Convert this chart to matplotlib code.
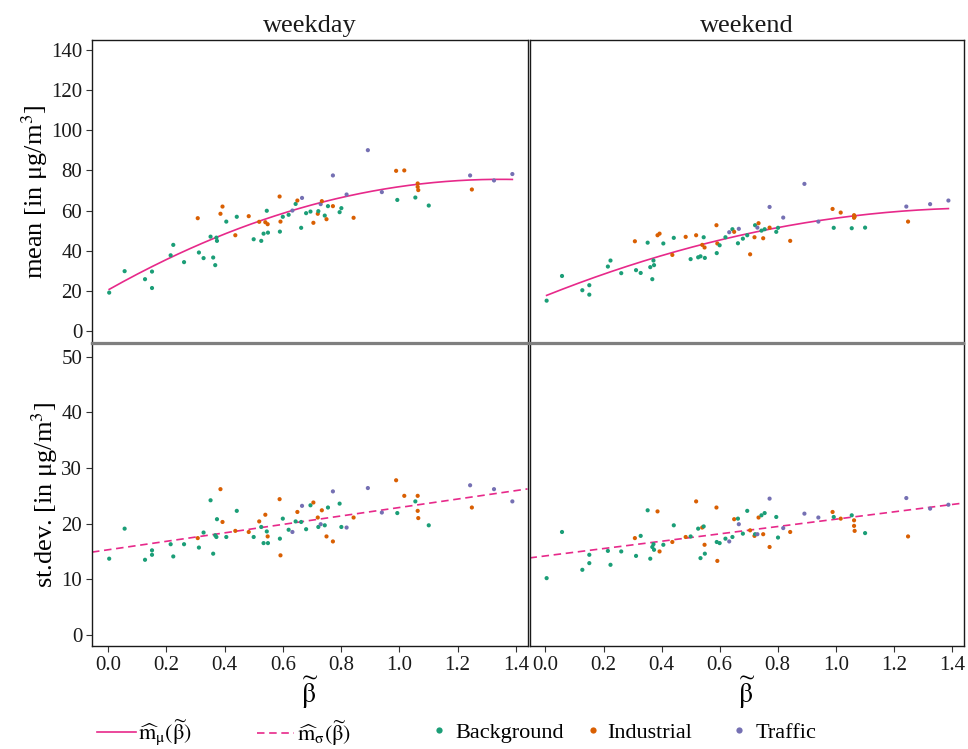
import numpy as np
import matplotlib
matplotlib.use("Agg")
import matplotlib.pyplot as plt
from matplotlib.lines import Line2D

plt.rcParams["font.family"] = ["Liberation Serif", "DejaVu Serif"]
plt.rcParams["mathtext.fontset"] = "stix"

# Station-level summaries: site type, beta-tilde and NO2 statistics
site_type = ["B", "B", "B", "B", "B", "B", "B", "B", "I", "B",
             "B", "B", "B", "B", "B", "B", "I", "I", "B", "I",
             "B", "I", "B", "I", "B", "B", "I", "B", "I", "B",
             "I", "B", "I", "B", "B", "T", "B", "I", "B", "T",
             "B", "B", "I", "I", "B", "T", "I", "B", "I", "B",
             "I", "T", "B", "B", "T", "I", "T", "T", "I", "B",
             "I", "B", "I", "I", "I", "B", "T", "I", "T", "T"]

beta = [0.004, 0.057, 0.127, 0.151, 0.151, 0.215, 0.224, 0.261, 0.308, 0.312,
        0.328, 0.352, 0.361, 0.368, 0.372, 0.374, 0.386, 0.393, 0.406, 0.437,
        0.442, 0.483, 0.500, 0.519, 0.526, 0.534, 0.540, 0.545, 0.548, 0.549,
        0.589, 0.590, 0.592, 0.600, 0.620, 0.633, 0.644, 0.650, 0.663, 0.666,
        0.680, 0.695, 0.705, 0.720, 0.722, 0.730, 0.734, 0.744, 0.750, 0.755,
        0.772, 0.772, 0.795, 0.801, 0.819, 0.843, 0.892, 0.940, 0.989, 0.993,
        1.017, 1.055, 1.063, 1.063, 1.065, 1.101, 1.243, 1.249, 1.325, 1.388]

mean_weekday = [19.1, 29.8, 25.8, 29.6, 21.4, 37.7, 42.9, 34.3, 56.2, 39.1,
                36.3, 47.0, 36.6, 32.8, 46.5, 44.9, 58.4, 62.0, 54.5, 47.7,
                56.9, 57.2, 45.7, 54.4, 44.9, 48.5, 54.2, 59.9, 53.2, 49.0,
                67.0, 49.5, 54.5, 56.9, 57.9, 60.0, 63.3, 65.0, 51.4, 66.3,
                58.7, 59.5, 53.9, 58.4, 59.7, 63.2, 64.7, 57.5, 55.7, 62.2,
                62.2, 77.5, 59.2, 61.2, 68.0, 56.4, 90.1, 69.2, 79.8, 65.3,
                80.0, 66.5, 73.5, 71.8, 70.2, 62.5, 77.5, 70.5, 75.0, 78.2]

mean_weekend = [15.1, 27.4, 20.3, 22.8, 18.1, 32.1, 35.1, 28.8, 44.7, 30.3,
                28.9, 44.0, 31.8, 25.8, 35.1, 32.8, 47.7, 48.5, 43.6, 37.9,
                46.4, 46.9, 35.8, 47.7, 36.7, 37.2, 42.9, 46.7, 41.6, 36.4,
                52.7, 38.8, 43.6, 42.7, 46.7, 49.2, 50.7, 49.4, 43.7, 50.9,
                46.0, 47.7, 38.2, 46.7, 52.7, 51.5, 53.7, 50.0, 46.2, 50.7,
                51.5, 61.8, 49.4, 51.4, 56.5, 44.9, 73.3, 54.5, 60.8, 51.4,
                59.0, 51.2, 57.7, 56.4, 57.0, 51.5, 62.0, 54.5, 63.2, 65.0]

sd_weekday = [13.7, 19.1, 13.5, 15.2, 14.4, 16.3, 14.1, 16.3, 17.4, 15.7,
              18.4, 24.2, 14.6, 17.9, 17.6, 20.8, 26.2, 20.3, 17.6, 18.7,
              22.3, 18.5, 17.6, 20.4, 19.4, 16.5, 21.6, 18.6, 17.7, 16.5,
              24.4, 17.3, 14.3, 20.9, 18.9, 18.5, 20.4, 22.1, 20.3, 23.2,
              19.0, 23.3, 23.8, 21.1, 19.4, 19.9, 22.4, 19.7, 17.7, 22.9,
              16.8, 25.8, 23.6, 19.4, 19.3, 21.1, 26.4, 22.0, 27.8, 21.9,
              25.0, 24.0, 25.0, 22.3, 21.0, 19.7, 26.9, 22.9, 26.2, 24.0]

sd_weekend = [10.2, 18.5, 11.7, 14.4, 12.9, 15.1, 12.6, 15.0, 17.4, 14.2,
              17.8, 22.4, 13.7, 15.8, 16.3, 15.3, 22.2, 15.0, 16.2, 16.7,
              19.7, 17.6, 17.7, 24.0, 19.1, 13.8, 19.3, 19.5, 16.2, 14.6,
              22.9, 16.7, 13.3, 16.5, 17.3, 16.8, 17.6, 20.8, 20.9, 19.9,
              18.2, 22.3, 18.8, 17.8, 18.1, 18.1, 21.1, 21.5, 18.1, 21.9,
              15.8, 24.5, 21.2, 17.5, 19.2, 18.5, 21.8, 21.1, 22.1, 21.2,
              20.9, 21.5, 20.6, 19.6, 18.7, 18.3, 24.6, 17.7, 22.7, 23.4]

# Fitted models: quadratic for the mean, linear for the st.dev.
mu_coef_weekday = [20.4, 81.9, -30.4]
mu_coef_weekend = [17.5, 57.7, -19.0]
sigma_coef_weekday = [15.3, 7.6]
sigma_coef_weekend = [14.2, 6.6]

panel_titles = ["weekday", "weekend"]
type_names = {"B": "Background", "I": "Industrial", "T": "Traffic"}
type_colors = {"B": "#1B9E77", "I": "#D95F02", "T": "#7570B3"}
fit_color = "#E7298A"

W, H = 968, 749
fig = plt.figure(figsize=(W / 100, H / 100), dpi=100)


def frac_box(x0, y0, x1, y1):
    return [x0 / W, 1 - y1 / H, (x1 - x0) / W, (y1 - y0) / H]


axes = {
    (0, 0): fig.add_axes(frac_box(92, 40, 527.5, 343)),
    (0, 1): fig.add_axes(frac_box(529.5, 40, 963.5, 343)),
    (1, 0): fig.add_axes(frac_box(92, 344, 527.5, 646)),
    (1, 1): fig.add_axes(frac_box(529.5, 344, 963.5, 646)),
}

beta_arr = np.array(beta)
colors = [type_colors[t] for t in site_type]
xlim = (-0.055, 1.44)

panels = {
    (0, 0): (mean_weekday, mu_coef_weekday, None),
    (0, 1): (mean_weekend, mu_coef_weekend, None),
    (1, 0): (sd_weekday, None, sigma_coef_weekday),
    (1, 1): (sd_weekend, None, sigma_coef_weekend),
}

for (r, c), ax in axes.items():
    vals, mu_coef, sig_coef = panels[(r, c)]
    ax.scatter(beta_arr, vals, s=9, c=colors, linewidths=0, zorder=3)
    if mu_coef is not None:
        xs = np.linspace(beta_arr.min(), beta_arr.max(), 200)
        ys = mu_coef[0] + mu_coef[1] * xs + mu_coef[2] * xs ** 2
        ax.plot(xs, ys, color=fit_color, lw=1.2, zorder=2)
        ax.set_ylim(-6, 145)
        ax.set_yticks(np.arange(0, 141, 20))
    else:
        xs = np.array(xlim)
        ys = sig_coef[0] + sig_coef[1] * xs
        ax.plot(xs, ys, color=fit_color, lw=1.2, dashes=(4.5, 2.8), zorder=2)
        ax.set_ylim(-2, 52.3)
        ax.set_yticks(np.arange(0, 51, 10))
    ax.set_xlim(*xlim)
    ax.set_xticks(np.arange(0, 1.41, 0.2))
    ax.xaxis.set_major_formatter(matplotlib.ticker.FormatStrFormatter("%.1f"))
    ax.tick_params(direction="out", length=4, width=0.8, labelsize=15,
                   color="#333333", labelcolor="#1a1a1a", pad=3)
    for sp in ax.spines.values():
        sp.set_linewidth(1.0)
        sp.set_color("#1a1a1a")
    if r == 0:
        ax.spines["bottom"].set_color("#7f7f7f")
        ax.spines["bottom"].set_linewidth(1.6)
        ax.tick_params(axis="x", bottom=False, labelbottom=False)
        ax.set_title(panel_titles[c], fontsize=19, pad=6, color="#1a1a1a")
    else:
        ax.spines["top"].set_color("#7f7f7f")
        ax.spines["top"].set_linewidth(1.6)
        ax.set_xlabel(r"$\widetilde{\mathrm{\beta}}$", fontsize=20, labelpad=0)
    if c == 1:
        ax.tick_params(axis="y", left=False, labelleft=False)

axes[(0, 0)].set_ylabel("mean [in μg/m$^3$]", fontsize=19, labelpad=1)
axes[(1, 0)].set_ylabel("st.dev. [in μg/m$^3$]", fontsize=19, labelpad=1)

# Legend row along the bottom: one entry per slot, placed left to right
legend_fs = 16
legend_y = 1 - 733 / H
entries = [
    (Line2D([], [], color=fit_color, lw=1.2),
     r"$\widehat{\mathrm{m}}_{\mathrm{\mu}}(\widetilde{\mathrm{\beta}})$", 97, 1.75, 0.1),
    (Line2D([], [], color=fit_color, lw=1.2, dashes=(4.5, 2.8)),
     r"$\widehat{\mathrm{m}}_{\mathrm{\sigma}}(\widetilde{\mathrm{\beta}})$", 257, 1.65, 0.15),
    (Line2D([], [], ls="none", marker="o", ms=4.5, mew=0, color=type_colors["B"]),
     type_names["B"], 432, 0.6, 0.45),
    (Line2D([], [], ls="none", marker="o", ms=4.5, mew=0, color=type_colors["I"]),
     type_names["I"], 586, 0.6, 0.35),
    (Line2D([], [], ls="none", marker="o", ms=4.5, mew=0, color=type_colors["T"]),
     type_names["T"], 732, 0.6, 0.45),
]
for handle, label, x0, hlen, tpad in entries:
    fig.legend([handle], [label], loc="center left",
               bbox_to_anchor=(x0 / W, legend_y), frameon=False,
               fontsize=legend_fs, handlelength=hlen, handletextpad=tpad,
               borderpad=0, borderaxespad=0)

fig.savefig("out.png", dpi=100)
